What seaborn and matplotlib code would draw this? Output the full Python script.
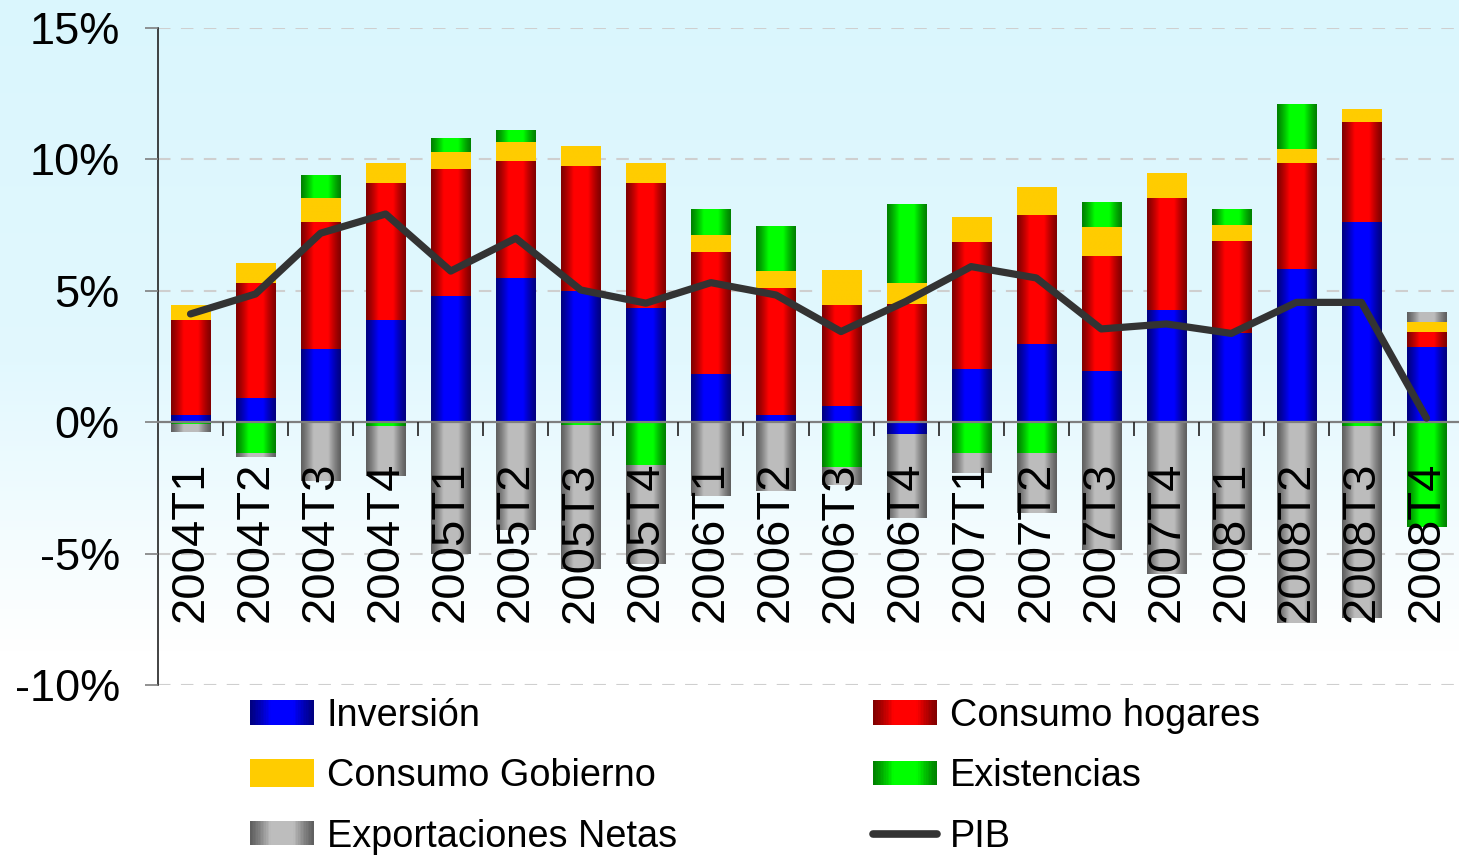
import numpy as np
import pandas as pd
import matplotlib
matplotlib.use("Agg")
import matplotlib.pyplot as plt
import seaborn as sns
from matplotlib.patches import Rectangle
from matplotlib.lines import Line2D
from matplotlib.legend_handler import HandlerBase
from matplotlib.ticker import FuncFormatter, FixedLocator

# ---------------- data ----------------
quarters = ['2004T1', '2004T2', '2004T3', '2004T4',
            '2005T1', '2005T2', '2005T3', '2005T4',
            '2006T1', '2006T2', '2006T3', '2006T4',
            '2007T1', '2007T2', '2007T3', '2007T4',
            '2008T1', '2008T2', '2008T3', '2008T4']
inversion = [0.28, 0.94, 2.79, 3.89, 4.80, 5.49, 4.99, 4.35, 1.84, 0.28,
             0.62, -0.44, 2.03, 2.98, 1.95, 4.27, 3.38, 5.83, 7.62, 2.86]
consumo_hogares = [3.62, 4.37, 4.83, 5.21, 4.83, 4.45, 4.76, 4.75, 4.64, 4.82,
                   3.83, 4.50, 4.82, 4.90, 4.37, 4.26, 3.52, 4.03, 3.80, 0.57]
consumo_gobierno = [0.57, 0.75, 0.91, 0.76, 0.65, 0.72, 0.75, 0.76, 0.64, 0.65,
                    1.30, 0.80, 0.95, 1.03, 1.11, 0.95, 0.60, 0.54, 0.48, 0.38]
existencias = [-0.05, -1.20, 0.87, -0.13, 0.53, 0.42, -0.13, -1.65, 0.98, 1.71,
               -1.72, 3.00, -1.18, -1.18, 0.95, 0.00, 0.60, 1.70, -0.13, -4.00]
exportaciones_netas = [-0.30, -0.13, -2.22, -1.90, -5.00, -4.10, -5.45, -3.74, -2.79, -2.60,
                       -0.68, -3.18, -0.76, -2.26, -4.86, -5.76, -4.86, -7.62, -7.30, 0.38]
pib = [4.12, 4.88, 7.19, 7.92, 5.75, 7.00, 5.03, 4.53, 5.31, 4.84,
       3.45, 4.60, 5.92, 5.49, 3.55, 3.74, 3.38, 4.56, 4.56, 0.16]

series_names = ['Inversión', 'Consumo hogares', 'Consumo Gobierno', 'Existencias', 'Exportaciones Netas']
series_values = [inversion, consumo_hogares, consumo_gobierno, existencias, exportaciones_netas]
series_colors = [(0.0, 0.0, 1.0), (1.0, 0.0, 0.0), (1.0, 0.8, 0.0), (0.0, 1.0, 0.0), (0.74, 0.74, 0.74)]
series_flat = [False, False, True, False, False]
yticks = [-10, -5, 0, 5, 10, 15]

# ---------------- style ----------------
plt.rcParams['font.family'] = ['Liberation Sans', 'DejaVu Sans']

W, H = 1459, 855
fig = plt.figure(figsize=(W / 100, H / 100), dpi=100)

# background gradient (light cyan to white)
bg = fig.add_axes([0, 0, 1, 1], zorder=-10)
ys = np.linspace(0, 1, 400)
top = np.array([0.855, 0.965, 0.996])
mid = np.array([0.885, 0.972, 0.996])
white = np.array([1.0, 1.0, 1.0])
col = np.zeros((400, 3))
for i, yv in enumerate(ys):
    if yv < 0.42:
        c = top + (mid - top) * (yv / 0.42)
    elif yv < 0.76:
        c = mid + (white - mid) * ((yv - 0.42) / 0.34)
    else:
        c = white
    col[i] = c
bg.imshow(col[:, None, :].repeat(2, axis=1), aspect='auto', extent=[0, 1, 0, 1], origin='upper')
bg.axis('off')

left = 158 / W
bottom = (H - 685.3) / H
topf = (H - 27.8) / H
ax = fig.add_axes([left, bottom, 1 - left, topf - bottom])
ax.patch.set_alpha(0)


def shade(base, flat=False, n=64):
    t = (np.arange(n) + 0.5) / n
    if flat:
        f = np.ones(n)
    else:
        d = np.minimum(t, 1 - t)
        f = 0.5 + 0.5 * np.minimum(1.0, d / 0.32) ** 1.25
    return np.clip(np.array(base)[None, :] * f[:, None], 0, 1)


# stacked bars (positive and negative stacks separately)
pos_cum = np.zeros(len(quarters))
neg_cum = np.zeros(len(quarters))
for name, vals, c, flat in zip(series_names, series_values, series_colors, series_flat):
    vals = np.array(vals, dtype=float)
    bottoms = np.where(vals >= 0, pos_cum, neg_cum)
    df = pd.DataFrame({'q': quarters, 'v': vals})
    n_before = len(ax.patches)
    sns.barplot(data=df, x='q', y='v', order=quarters, bottom=bottoms, color=c,
                saturation=1, width=0.6, errorbar=None, linewidth=0, ax=ax)
    new_patches = ax.patches[n_before:]
    grad = shade(c, flat)[None, :, :]
    for p in new_patches:
        x0, y0 = p.get_x(), p.get_y()
        w, h = p.get_width(), p.get_height()
        if h == 0:
            continue
        ax.imshow(grad, extent=(x0, x0 + w, min(y0, y0 + h), max(y0, y0 + h)),
                  aspect='auto', interpolation='bilinear', zorder=1.2)
    pos_cum = pos_cum + np.where(vals >= 0, vals, 0)
    neg_cum = neg_cum + np.where(vals < 0, vals, 0)

# PIB line
sns.lineplot(x=np.arange(len(quarters)), y=pib, color='#333333', linewidth=5.2,
             errorbar=None, ax=ax, zorder=3, solid_capstyle='round', solid_joinstyle='round')

# gridlines
for yv in yticks:
    if yv != 0:
        ax.axhline(yv, color='#cfcfcf', linewidth=1.5, dashes=(6, 5), zorder=0.5)

ax.set_xlim(-0.5, len(quarters) - 0.5)
ax.set_ylim(-10, 15)
ax.set_axisbelow(False)
ax.set_xlabel('')
ax.set_ylabel('')

# axes styling
for s in ['top', 'right']:
    ax.spines[s].set_visible(False)
ax.spines['bottom'].set_position(('data', 0))
ax.spines['bottom'].set_color('#7f7f7f')
ax.spines['bottom'].set_linewidth(1.6)
ax.spines['bottom'].set_zorder(2.5)
ax.spines['left'].set_color('#222222')
ax.spines['left'].set_linewidth(1.2)

ax.set_xticks(np.arange(len(quarters)))
ax.set_xticklabels(quarters, rotation=90, fontsize=34)
ax.xaxis.set_minor_locator(FixedLocator(np.arange(0.5, len(quarters) - 0.5, 1)))
ax.tick_params(axis='x', which='major', length=0, pad=28.5)
ax.tick_params(axis='x', which='minor', length=10, width=1.2, color='#222222', direction='out')
for lab in ax.get_xticklabels():
    lab.set_va('top')
    lab.set_zorder(4)

ax.set_yticks(yticks)
ax.yaxis.set_major_formatter(FuncFormatter(lambda v, p: f"{v:.0f}%"))
ax.tick_params(axis='y', which='major', length=9.5, width=1.2, color='#7f7f7f', pad=18, labelsize=32.5)


# legend with gradient handles
class GradHandler(HandlerBase):
    def __init__(self, base, flat=False, hfrac=1.0, n=40):
        super().__init__()
        self.base, self.flat, self.hfrac, self.n = base, flat, hfrac, n

    def create_artists(self, legend, orig_handle, xdescent, ydescent, width, height, fontsize, trans):
        cols = shade(self.base, self.flat, self.n)
        arts = []
        h = height * self.hfrac
        y = -ydescent + (height - h) / 2
        for k in range(self.n):
            r = Rectangle((-xdescent + k * width / self.n, y), width / self.n * 1.08, h,
                          facecolor=cols[k], edgecolor='none', transform=trans)
            arts.append(r)
        return arts


proxies = [Rectangle((0, 0), 1, 1) for _ in range(5)]
hmap = {}
for pr, c, flat in zip(proxies, series_colors, series_flat):
    hmap[pr] = GradHandler(c, flat, hfrac=1.12 if flat else 1.0)
pib_handle = Line2D([0], [0], color='#333333', linewidth=5.5, solid_capstyle='round')

handles = [proxies[0], proxies[2], proxies[4], proxies[1], proxies[3], pib_handle]
labels = [series_names[0], series_names[2], series_names[4], series_names[1], series_names[3], 'PIB']
leg = fig.legend(handles, labels, handler_map=hmap, ncol=2, loc='upper left',
                 bbox_to_anchor=(250 / W, (H - 698) / H), frameon=False, fontsize=27.3,
                 handlelength=1.69, handleheight=0.62, handletextpad=0.34,
                 columnspacing=5.17, labelspacing=0.64, borderpad=0, borderaxespad=0)

fig.savefig('out.png', dpi=100)
